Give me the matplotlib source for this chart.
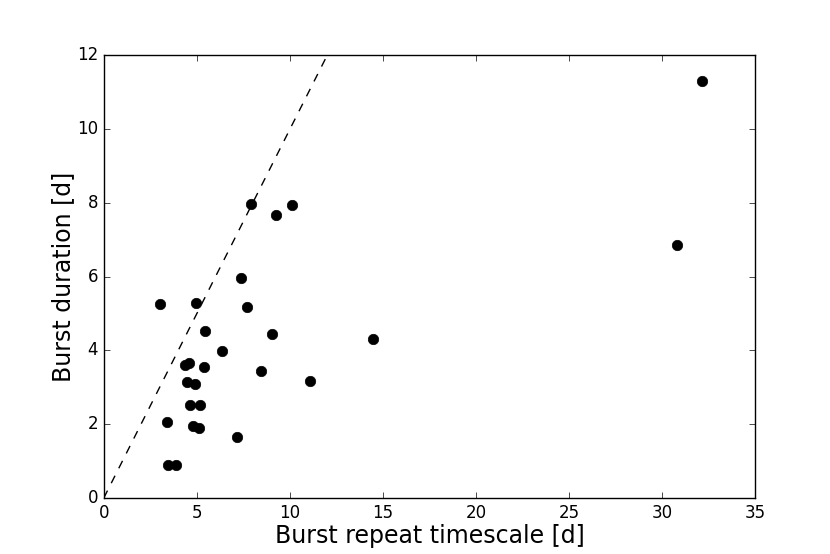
import matplotlib
matplotlib.use('Agg')
import matplotlib.pyplot as plt

# burst repeat timescale [d] vs burst duration [d]
repeat = [3.03, 3.40, 3.43, 3.88, 4.97, 5.45, 4.34, 4.60, 4.49, 4.88,
          4.63, 5.15, 4.80, 5.13, 5.40, 6.35, 7.14, 7.39, 7.71, 7.89,
          9.26, 10.12, 9.02, 8.45, 11.10, 14.49, 30.78, 32.12]
duration = [5.25, 2.07, 0.90, 0.90, 5.30, 4.53, 3.61, 3.66, 3.15, 3.09,
            2.52, 2.52, 1.94, 1.89, 3.55, 3.98, 1.65, 5.97, 5.17, 7.97,
            7.67, 7.94, 4.45, 3.44, 3.17, 4.32, 6.87, 11.30]

line_x = [0, 12]
line_y = [0, 12]

plt.style.use('classic')
plt.rcParams['font.family'] = ['DejaVu Sans']

fig = plt.figure(figsize=(8.3, 5.54), dpi=100, facecolor='white')
fig.subplots_adjust(left=0.125, right=0.91, bottom=0.101, top=0.9)
ax = fig.add_subplot(111)
ax.plot(line_x, line_y, 'k--')
ax.plot(repeat, duration, 'ko', markersize=7.5)
ax.set_xlim(0, 35)
ax.set_ylim(0, 12)
ax.set_xlabel('Burst repeat timescale [d]', fontsize=17, labelpad=2)
ax.set_ylabel('Burst duration [d]', fontsize=17, labelpad=1)

plt.savefig('out.png', dpi=100, facecolor='white')
